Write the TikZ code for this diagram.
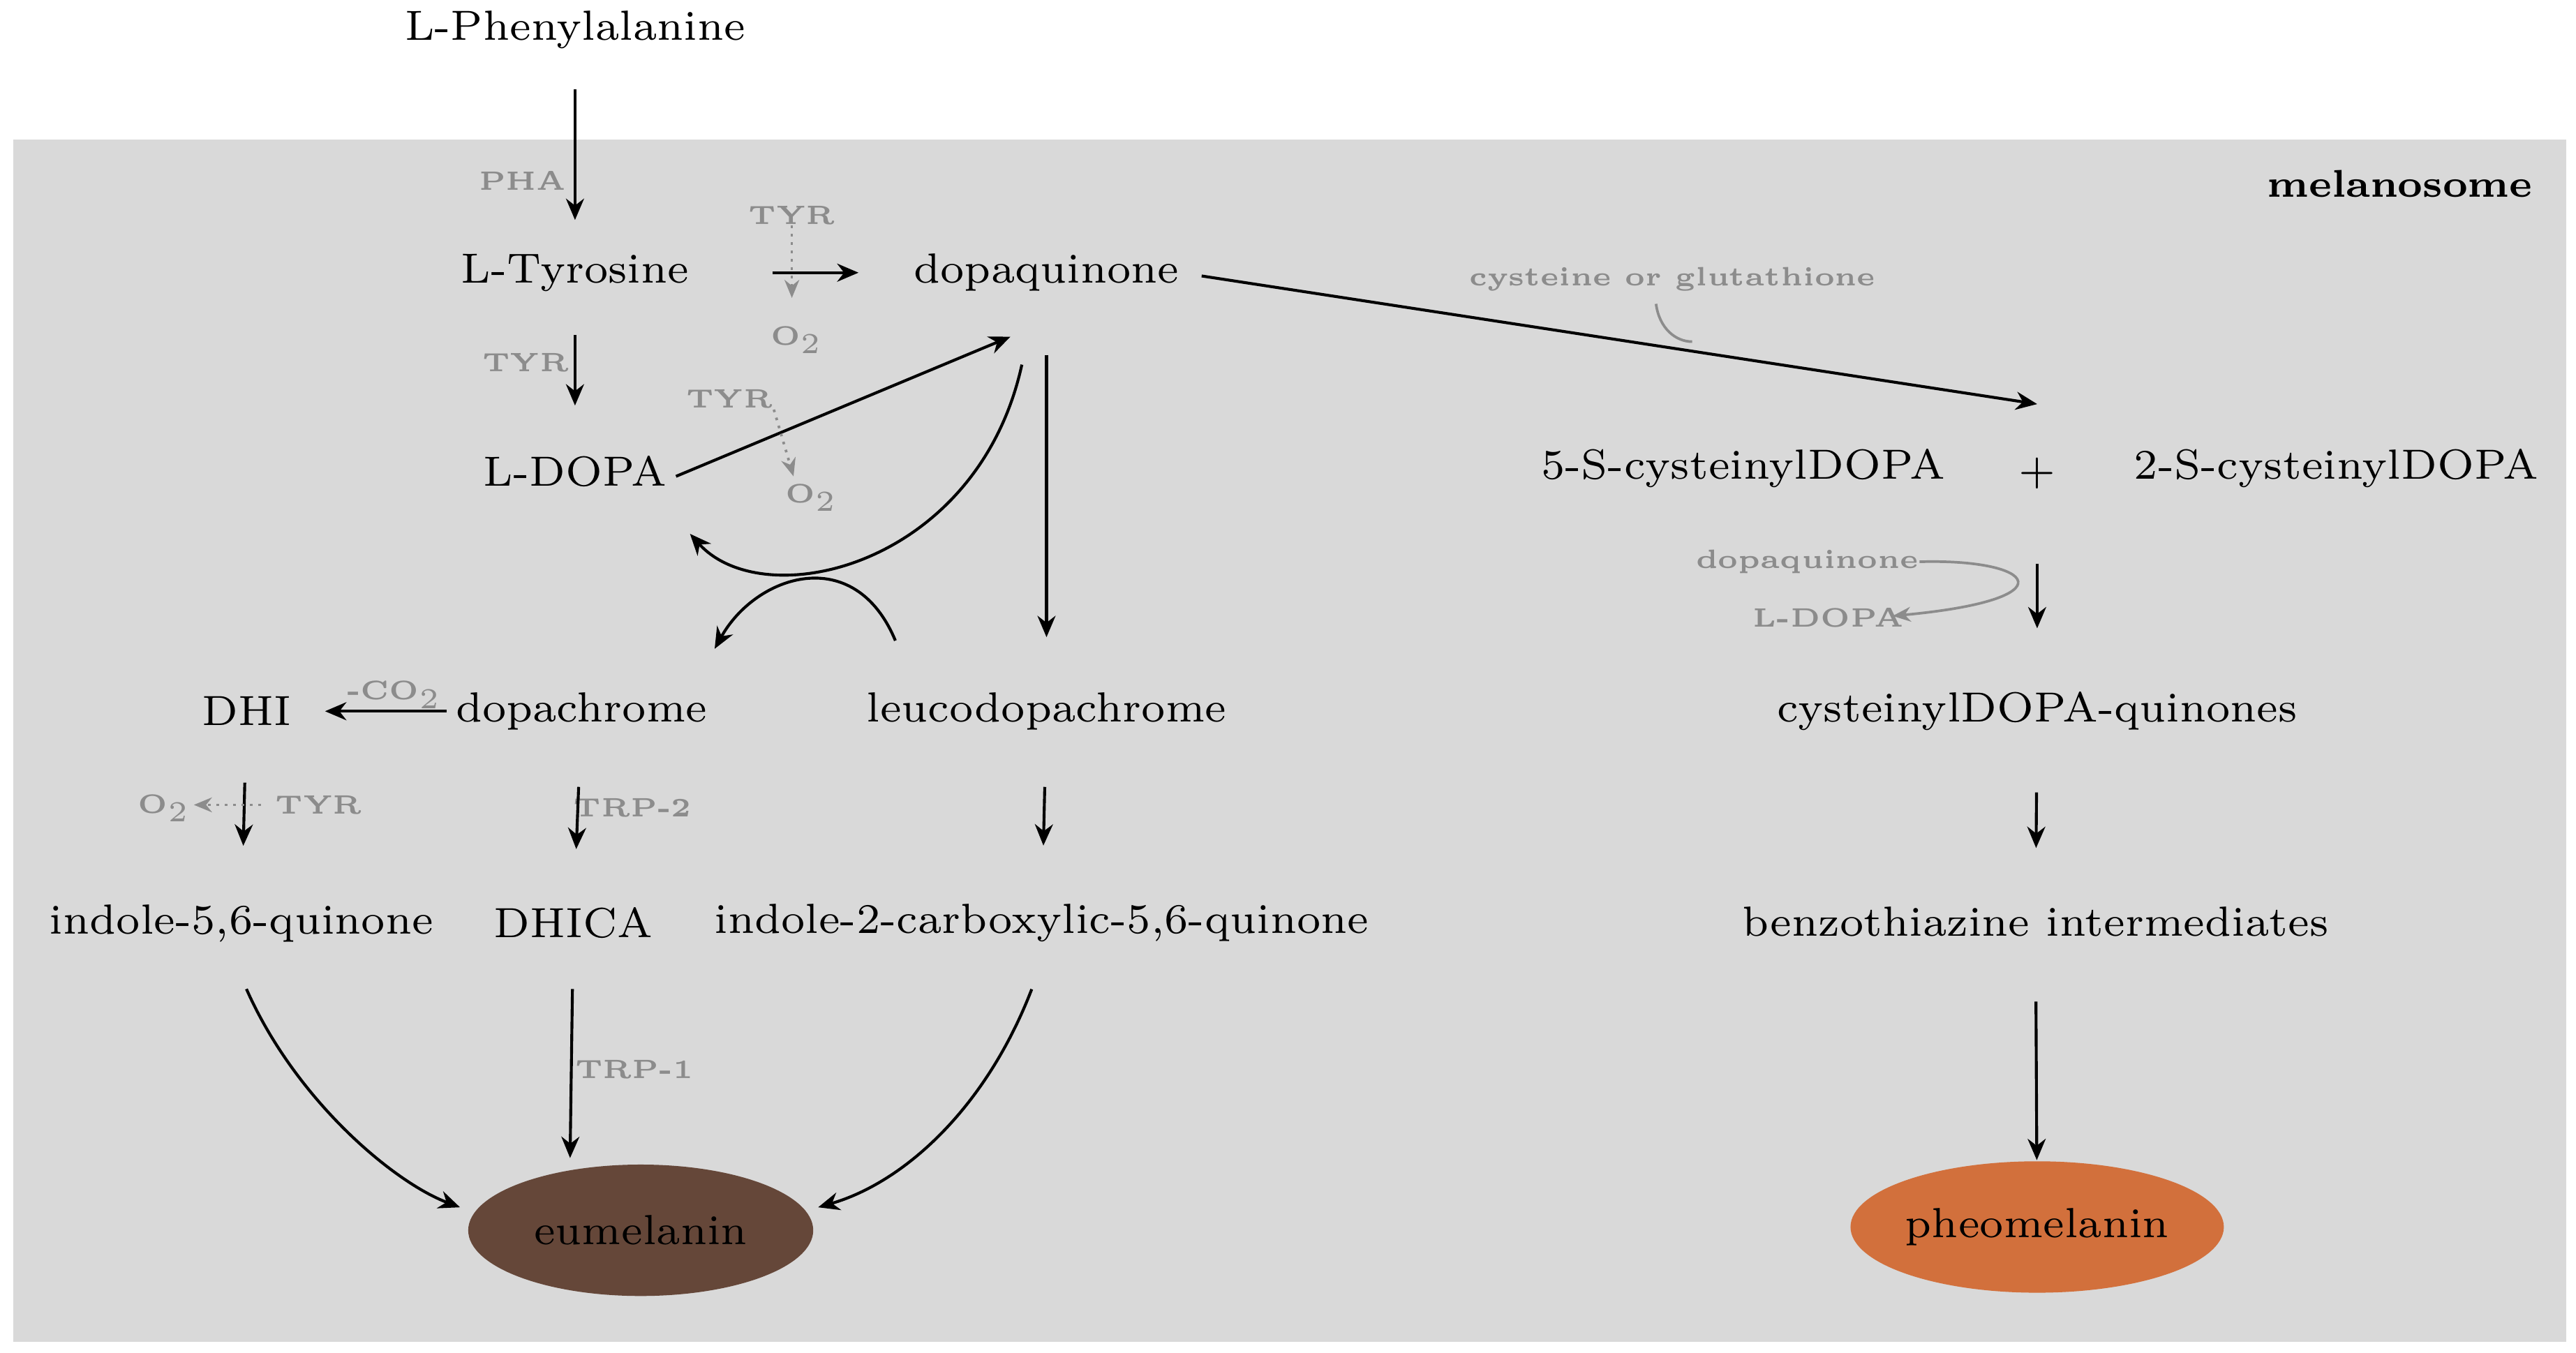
\documentclass[tikz,border=0pt]{standalone}
\usepackage{amsmath}
\usetikzlibrary{arrows.meta, shapes.geometric}
\usepackage{xcolor}
\definecolor{bggray}{HTML}{D9D9D9}
\definecolor{lblgray}{HTML}{8C8C8C}
\definecolor{eubrown}{HTML}{654739}
\definecolor{pheoorange}{HTML}{D2703C}
\tikzset{
  cmp/.style={inner sep=0pt, font=\fontsize{7.3pt}{8pt}\selectfont},
  enz/.style={inner sep=0pt, text=lblgray, font=\fontsize{4.6pt}{5pt}\selectfont\bfseries},
  arr/.style={-{Stealth[length=1.3mm,width=1.1mm]}, line width=0.5pt},
  dotarr/.style={-{Stealth[length=1.1mm,width=0.9mm]}, densely dotted, line width=0.45pt, lblgray},
  grarr/.style={-{Stealth[length=1.1mm,width=0.9mm]}, line width=0.45pt, lblgray},
  pig/.style={ellipse, minimum width=2.1cm, minimum height=0.8cm, inner sep=0pt, font=\fontsize{7.3pt}{8pt}\selectfont}
}
\begin{document}
\begin{tikzpicture}
\useasboundingbox (0,0) rectangle (15.68,-8.237);
\fill[bggray] (0.08,-0.85) rectangle (15.62,-8.17);
\node[anchor=east, font=\fontsize{6.7pt}{7pt}\selectfont\bfseries, inner sep=0pt] (melano) at (15.42,-1.12) {melanosome};

% compounds
\node[cmp] (phe) at (3.50,-0.18) {L-Phenylalanine};
\node[cmp] (tyr) at (3.50,-1.66) {L-Tyrosine};
\node[cmp] (dq) at (6.37,-1.66) {dopaquinone};
\node[cmp] (ldopa) at (3.50,-2.87) {L-DOPA};
\node[cmp] (cys5) at (10.61,-2.85) {5-S-cysteinylDOPA};
\node[cmp] (plus) at (12.40,-2.88) {+};
\node[cmp] (cys2) at (14.22,-2.85) {2-S-cysteinylDOPA};
\node[cmp] (dhi) at (1.50,-4.33) {DHI};
\node[cmp] (dc) at (3.54,-4.33) {dopachrome};
\node[cmp] (leuco) at (6.37,-4.33) {leucodopachrome};
\node[cmp] (cysq) at (12.40,-4.33) {cysteinylDOPA-quinones};
\node[cmp] (iq) at (1.47,-5.62) {indole-5,6-quinone};
\node[cmp] (dhica) at (3.49,-5.62) {DHICA};
\node[cmp] (icq) at (6.34,-5.62) {indole-2-carboxylic-5,6-quinone};
\node[cmp] (benzo) at (12.39,-5.61) {benzothiazine intermediates};
\node[pig, fill=eubrown] (eu) at (3.90,-7.49) {eumelanin};
\node[pig, fill=pheoorange] (pheo) at (12.40,-7.47) {pheomelanin};

% enzymes and cofactors
\node[enz] (pha) at (3.18,-1.10) {PHA};
\node[enz] (tyr1) at (4.82,-1.31) {TYR};
\node[enz] (ox1) at (4.85,-2.07) {O$_2$};
\node[enz] (tyr2) at (3.20,-2.21) {TYR};
\node[enz] (tyr3) at (4.44,-2.43) {TYR};
\node[enz] (ox2) at (4.94,-3.03) {O$_2$};
\node[enz] (co2) at (2.40,-4.23) {-CO$_2$};
\node[enz] (ox3) at (1.00,-4.92) {O$_2$};
\node[enz] (tyr4) at (1.94,-4.90) {TYR};
\node[enz] (trp2) at (3.85,-4.92) {TRP-2};
\node[enz] (trp1) at (3.86,-6.51) {TRP-1};
\node[enz] (cyst) at (10.18,-1.70) {cysteine or glutathione};
\node[enz] (dqs) at (11.00,-3.42) {dopaquinone};
\node[enz] (lds) at (11.13,-3.76) {L-DOPA};
\coordinate (cysend) at (10.30,-2.08);

% main route
\draw[arr, shorten <=0.24cm, shorten >=0.2cm] (phe) -- (tyr);
\draw[arr, shorten <=0.5cm, shorten >=0.33cm] (tyr) -- (dq);
\draw[dotarr] (tyr1.south) -- ++(0,-0.44);
\draw[arr, shorten <=0.26cm, shorten >=0.3cm] (tyr) -- (ldopa);
\draw[arr] (ldopa.east) ++(0.05,-0.03) -- (6.15,-2.05);
\draw[dotarr] (tyr3.south east) -- (4.83,-2.90);
\draw[arr, shorten <=0.38cm, shorten >=0.33cm] (dq) -- (leuco);
\draw[arr] (6.22,-2.22) .. controls (5.95,-3.45) and (4.65,-3.75) .. (4.20,-3.25);
\draw[arr] (5.45,-3.90) .. controls (5.20,-3.30) and (4.60,-3.50) .. (4.35,-3.95);
\draw[arr, shorten <=0.05cm, shorten >=0.2cm] (dc.west) -- (dhi.east);
\draw[arr, shorten <=0.34cm, shorten >=0.35cm] (dhi) -- (iq);
\draw[dotarr] (tyr4.west) ++(-0.08,0) -- (1.18,-4.90);
\draw[arr, shorten <=0.34cm, shorten >=0.35cm] (dc) -- (dhica);
\draw[arr, shorten <=0.34cm, shorten >=0.35cm] (leuco) -- (icq);
\draw[arr] (iq.south) ++(0.03,-0.28) .. controls (1.80,-6.70) and (2.40,-7.20) .. (2.80,-7.35);
\draw[arr, shorten <=0.3cm] (dhica) -- (3.47,-7.05);
\draw[arr] (icq.south) ++(-0.06,-0.28) .. controls (6.00,-6.75) and (5.50,-7.20) .. (4.98,-7.35);

% pheomelanin route
\draw[arr] (dq.east) ++(0.13,-0.02) -- (12.40,-2.46);
\draw[lblgray, line width=0.45pt] (10.08,-1.85) .. controls (10.10,-2.00) and (10.20,-2.08) .. (cysend);
\draw[arr, shorten <=0.45cm, shorten >=0.38cm] (plus) -- (cysq);
\draw[grarr] (dqs.east) .. controls (12.40,-3.40) and (12.60,-3.65) .. (11.52,-3.75);
\draw[arr, shorten <=0.37cm, shorten >=0.35cm] (cysq) -- (benzo);
\draw[arr, shorten <=0.39cm] (benzo) -- (pheo);
\end{tikzpicture}
\end{document}
